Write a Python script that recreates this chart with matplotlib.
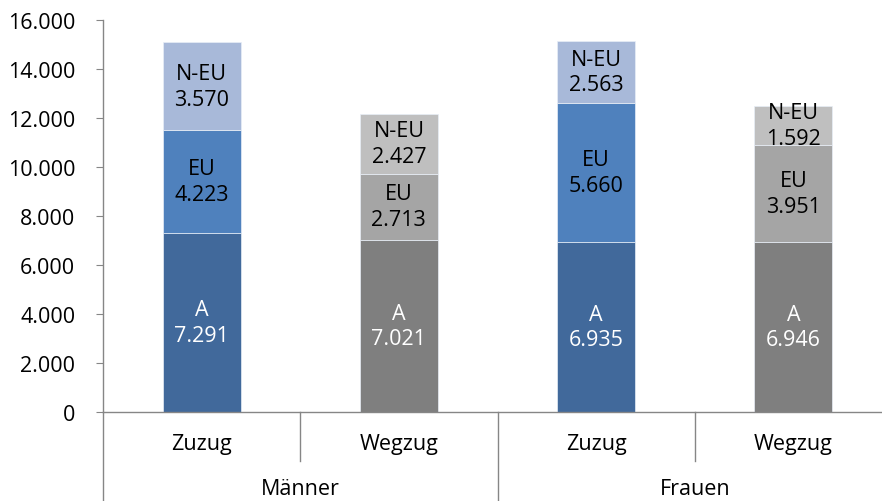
import matplotlib
matplotlib.use("Agg")
import matplotlib.pyplot as plt
from matplotlib.lines import Line2D
import matplotlib.transforms as mtransforms

plt.rcParams['font.family'] = ['Open Sans', 'DejaVu Sans']

categories = ["Zuzug", "Wegzug", "Zuzug", "Wegzug"]
groups = ["Männer", "Frauen"]
series_names = ["A", "EU", "N-EU"]
vals_A = [7291, 7021, 6935, 6946]
vals_EU = [4223, 2713, 5660, 3951]
vals_NEU = [3570, 2427, 2563, 1592]
yticks = [0, 2000, 4000, 6000, 8000, 10000, 12000, 14000, 16000]

blue_cols = ["#41699b", "#4f81bd", "#a8b9d9"]
gray_cols = ["#7f7f7f", "#a5a5a5", "#bfbfbf"]
text_cols = ["white", "black", "black"]

FS = 15.5

def fmt(v):
    return f"{v:,}".replace(",", ".")

fig = plt.figure(figsize=(8.82, 5.02), dpi=100)
ax = fig.add_axes([103/882, 89/502, 789/882, 392/502])

x = list(range(len(categories)))
width = 0.396
series = [vals_A, vals_EU, vals_NEU]
bottoms = [0]*len(x)
for si, vals in enumerate(series):
    cols = [blue_cols[si] if c == "Zuzug" else gray_cols[si] for c in categories]
    ax.bar(x, vals, width, bottom=bottoms, color=cols,
           edgecolor="#e8eef7", linewidth=0.5, zorder=2)
    for xi, v, b in zip(x, vals, bottoms):
        ax.text(xi, b + v/2, f"{series_names[si]}\n{fmt(v)}", ha="center", va="center",
                color=text_cols[si], fontsize=FS, linespacing=1.3, zorder=3)
    bottoms = [b + v for b, v in zip(bottoms, vals)]

ax.set_xlim(-0.5, 3.5)
ax.set_ylim(0, 16000)
ax.set_yticks(yticks)
ax.set_yticklabels([fmt(t) for t in yticks], fontsize=FS)
ax.tick_params(axis='y', length=5, color="#868686", pad=15)
ax.set_xticks([])
for s in ["top", "right"]:
    ax.spines[s].set_visible(False)
for s in ["left", "bottom"]:
    ax.spines[s].set_color("#868686")
    ax.spines[s].set_linewidth(1)

trans = mtransforms.blended_transform_factory(ax.transData, ax.transAxes)
ax.add_line(Line2D([-0.5, -0.5], [0, -0.23], transform=trans, color="#868686", lw=1, clip_on=False))
for xd in [0.5, 2.5]:
    ax.add_line(Line2D([xd, xd], [0, -0.125], transform=trans, color="#868686", lw=1, clip_on=False))
for xd in [1.5, 3.5]:
    ax.add_line(Line2D([xd, xd], [0, -0.23], transform=trans, color="#868686", lw=1, clip_on=False))

for xi, c in zip(x, categories):
    ax.text(xi, -0.0816, c, transform=trans, ha="center", va="center", fontsize=FS)
for gi, g in enumerate(groups):
    ax.text(gi*2 + 0.5, (413 - 495) / 392, g, transform=trans, ha="center",
            va="baseline", fontsize=FS)

fig.savefig("out.png", dpi=100)
